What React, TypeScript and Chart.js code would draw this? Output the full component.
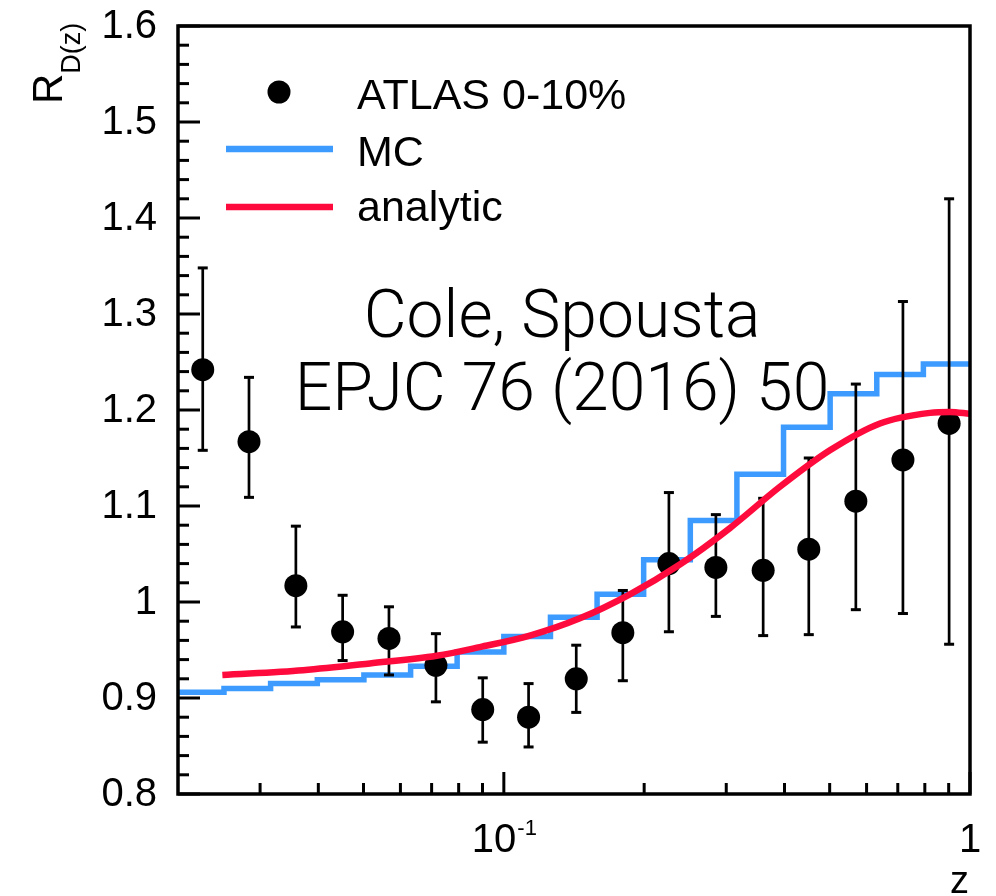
import React, { useEffect, useRef } from 'react';
import { Chart, registerables } from 'chart.js';

Chart.register(...registerables);

// ---------- data ----------
const zPoints = [0.0226, 0.0284, 0.0358, 0.0451, 0.0567, 0.0715, 0.0901, 0.113, 0.143, 0.180, 0.226, 0.285, 0.360, 0.451, 0.569, 0.718, 0.902];
const rPoints = [1.242, 1.167, 1.017, 0.969, 0.962, 0.934, 0.888, 0.880, 0.920, 0.968, 1.040, 1.036, 1.033, 1.055, 1.105, 1.148, 1.186];
const rHigh = [1.348, 1.234, 1.079, 1.007, 0.995, 0.967, 0.921, 0.915, 0.955, 1.012, 1.114, 1.091, 1.108, 1.150, 1.227, 1.313, 1.420];
const rLow = [1.158, 1.109, 0.974, 0.939, 0.924, 0.896, 0.854, 0.849, 0.885, 0.918, 0.969, 0.985, 0.965, 0.966, 0.992, 0.988, 0.956];

const mcEdges = [0.02, 0.0251, 0.0316, 0.0398, 0.0501, 0.0631, 0.0794, 0.1, 0.1259, 0.1585, 0.1995, 0.2512, 0.3162, 0.3981, 0.5012, 0.631, 0.7943, 1.0];
const mcValues = [0.906, 0.910, 0.915, 0.919, 0.924, 0.933, 0.948, 0.964, 0.984, 1.008, 1.044, 1.085, 1.133, 1.182, 1.217, 1.237, 1.248];

const anaZ = [0.0249, 0.0371, 0.0516, 0.0718, 0.0888, 0.1137, 0.1456, 0.1864, 0.2385, 0.3055, 0.391, 0.5006, 0.641, 0.8208, 0.9059, 1.0];
const anaR = [0.924, 0.929, 0.936, 0.944, 0.953, 0.965, 0.983, 1.008, 1.039, 1.077, 1.120, 1.158, 1.186, 1.197, 1.198, 1.196];

const yTickValues = [0.8, 0.9, 1.0, 1.1, 1.2, 1.3, 1.4, 1.5, 1.6];
const yTickLabels = ['0.8', '0.9', '1', '1.1', '1.2', '1.3', '1.4', '1.5', '1.6'];
const xMajorTicks = [0.1, 1];
const xMinorTicks = [0.03, 0.04, 0.05, 0.06, 0.07, 0.08, 0.09, 0.2, 0.3, 0.4, 0.5, 0.6, 0.7, 0.8, 0.9];

const legendLabels = ['ATLAS 0-10%', 'MC', 'analytic'];
const noteLines = ['Cole, Spousta', 'EPJC 76 (2016) 50'];

const X_MIN = 0.02;
const X_MAX = 1;
const Y_MIN = 0.8;
const Y_MAX = 1.6;

const BLUE = '#3d9bff';
const RED = '#ff0a3c';
const SANS = '"Liberation Sans", Arial, Helvetica, sans-serif';
const LIGHT = 'Roboto, "Liberation Sans", sans-serif';

const POINTS_INDEX = 1;

export default function App() {
  const ref = useRef<HTMLCanvasElement | null>(null);

  useEffect(() => {
    const canvas = ref.current;
    if (!canvas) return;

    const mcData = mcEdges.map((x, i) => ({ x, y: mcValues[Math.min(i, mcValues.length - 1)] }));
    const pointData = zPoints.map((x, i) => ({ x, y: rPoints[i] }));
    const anaData = anaZ.map((x, i) => ({ x, y: anaR[i] }));

    const decor = {
      id: 'decor',
      beforeDatasetDraw(chart: any, args: any) {
        if (args.index !== POINTS_INDEX) return;
        const ctx = chart.ctx;
        const xs = chart.scales.x;
        const ys = chart.scales.y;
        ctx.save();
        ctx.strokeStyle = '#000';
        ctx.fillStyle = '#000';
        ctx.lineWidth = 2.7;
        for (let i = 0; i < zPoints.length; i++) {
          const px = xs.getPixelForValue(zPoints[i]);
          const ph = ys.getPixelForValue(rHigh[i]);
          const pl = ys.getPixelForValue(rLow[i]);
          ctx.beginPath();
          ctx.moveTo(px, ph);
          ctx.lineTo(px, pl);
          ctx.stroke();
          ctx.fillRect(px - 5, ph - 1.5, 10, 3);
          ctx.fillRect(px - 5, pl - 1.5, 10, 3);
        }
        ctx.restore();
      },
      afterDraw(chart: any) {
        const ctx = chart.ctx;
        const xs = chart.scales.x;
        const ys = chart.scales.y;
        const a = chart.chartArea;
        ctx.save();

        // ticks
        ctx.strokeStyle = '#000';
        ctx.lineWidth = 3;
        ctx.lineCap = 'butt';
        for (let k = 0; k <= 40; k++) {
          const v = Y_MIN + k * 0.02;
          const py = ys.getPixelForValue(v);
          const len = k % 5 === 0 ? 22 : 11;
          ctx.beginPath();
          ctx.moveTo(a.left, py);
          ctx.lineTo(a.left + len, py);
          ctx.stroke();
        }
        for (const v of xMajorTicks) {
          const px = xs.getPixelForValue(v);
          ctx.beginPath();
          ctx.moveTo(px, a.bottom);
          ctx.lineTo(px, a.bottom - 22);
          ctx.stroke();
        }
        for (const v of xMinorTicks) {
          const px = xs.getPixelForValue(v);
          ctx.beginPath();
          ctx.moveTo(px, a.bottom);
          ctx.lineTo(px, a.bottom - 11);
          ctx.stroke();
        }

        // frame
        ctx.lineWidth = 3.5;
        ctx.strokeRect(a.left, a.top, a.right - a.left, a.bottom - a.top);

        // y tick labels
        ctx.fillStyle = '#000';
        ctx.font = `40px ${SANS}`;
        ctx.textAlign = 'right';
        ctx.textBaseline = 'middle';
        yTickValues.forEach((v, i) => {
          ctx.fillText(yTickLabels[i], 157, ys.getPixelForValue(v) + 1);
        });

        // x tick labels
        ctx.textBaseline = 'alphabetic';
        const xBase = 852;
        {
          const px = xs.getPixelForValue(xMajorTicks[0]);
          ctx.font = `40px ${SANS}`;
          const w1 = ctx.measureText('10').width;
          ctx.font = `22px ${SANS}`;
          const w2 = ctx.measureText('-1').width;
          const start = px - (w1 + w2) / 2;
          ctx.textAlign = 'left';
          ctx.font = `40px ${SANS}`;
          ctx.fillText('10', start, xBase);
          ctx.font = `22px ${SANS}`;
          ctx.fillText('-1', start + w1 + 1, xBase - 17);
        }
        {
          const px = xs.getPixelForValue(xMajorTicks[1]);
          ctx.font = `40px ${SANS}`;
          ctx.textAlign = 'center';
          ctx.fillText('1', px, xBase);
        }

        // x axis title
        ctx.font = `38px ${SANS}`;
        ctx.textAlign = 'right';
        ctx.fillText('z', 969, 893);

        // y axis title (rotated)
        ctx.save();
        ctx.translate(62, 104);
        ctx.rotate(-Math.PI / 2);
        ctx.textAlign = 'left';
        ctx.font = `42px ${SANS}`;
        ctx.fillText('R', 0, 0);
        const wR = ctx.measureText('R').width;
        ctx.font = `27px ${SANS}`;
        ctx.fillText('D(z)', wR, 18);
        ctx.restore();

        // legend
        ctx.fillStyle = '#000';
        ctx.beginPath();
        ctx.arc(279, 92, 11.5, 0, Math.PI * 2);
        ctx.fill();
        ctx.lineWidth = 6.5;
        ctx.strokeStyle = BLUE;
        ctx.beginPath();
        ctx.moveTo(226, 149);
        ctx.lineTo(333, 149);
        ctx.stroke();
        ctx.strokeStyle = RED;
        ctx.beginPath();
        ctx.moveTo(226, 207);
        ctx.lineTo(333, 207);
        ctx.stroke();
        ctx.font = `43px ${SANS}`;
        ctx.textAlign = 'left';
        ctx.fillStyle = '#000';
        ctx.fillText(legendLabels[0], 357, 109);
        ctx.fillText(legendLabels[1], 357, 166);
        ctx.fillText(legendLabels[2], 357, 221);

        // annotation
        ctx.font = `300 66px ${LIGHT}`;
        ctx.textAlign = 'center';
        ctx.fillText(noteLines[0], 562, 337);
        ctx.fillText(noteLines[1], 562, 410);

        ctx.restore();
      },
    };

    const chart = new Chart(canvas, {
      type: 'line',
      data: {
        datasets: [
          {
            label: 'analytic',
            data: anaData,
            borderColor: RED,
            borderWidth: 6.5,
            pointRadius: 0,
            cubicInterpolationMode: 'monotone',
            fill: false,
            order: 0,
          },
          {
            label: 'ATLAS 0-10%',
            data: pointData,
            showLine: false,
            pointRadius: 11.5,
            pointBackgroundColor: '#000',
            pointBorderWidth: 0,
            borderColor: '#000',
            order: 1,
          },
          {
            label: 'MC',
            data: mcData,
            borderColor: BLUE,
            borderWidth: 5.5,
            pointRadius: 0,
            stepped: 'before',
            fill: false,
            order: 2,
            clip: 0,
          },
        ],
      } as any,
      options: {
        animation: false,
        responsive: false,
        maintainAspectRatio: false,
        layout: { padding: { left: 178, right: 26, top: 26, bottom: 102 } },
        plugins: {
          legend: { display: false },
          tooltip: { enabled: false },
        },
        scales: {
          x: { type: 'logarithmic', min: X_MIN, max: X_MAX, display: false },
          y: { type: 'linear', min: Y_MIN, max: Y_MAX, display: false },
        },
      } as any,
      plugins: [decor],
    });

    return () => chart.destroy();
  }, []);

  return (
    <div style={{ position: 'fixed', left: 0, top: 0, width: 996, height: 896, background: '#fff' }}>
      <canvas ref={ref} width={996} height={896} style={{ display: 'block' }} />
    </div>
  );
}
